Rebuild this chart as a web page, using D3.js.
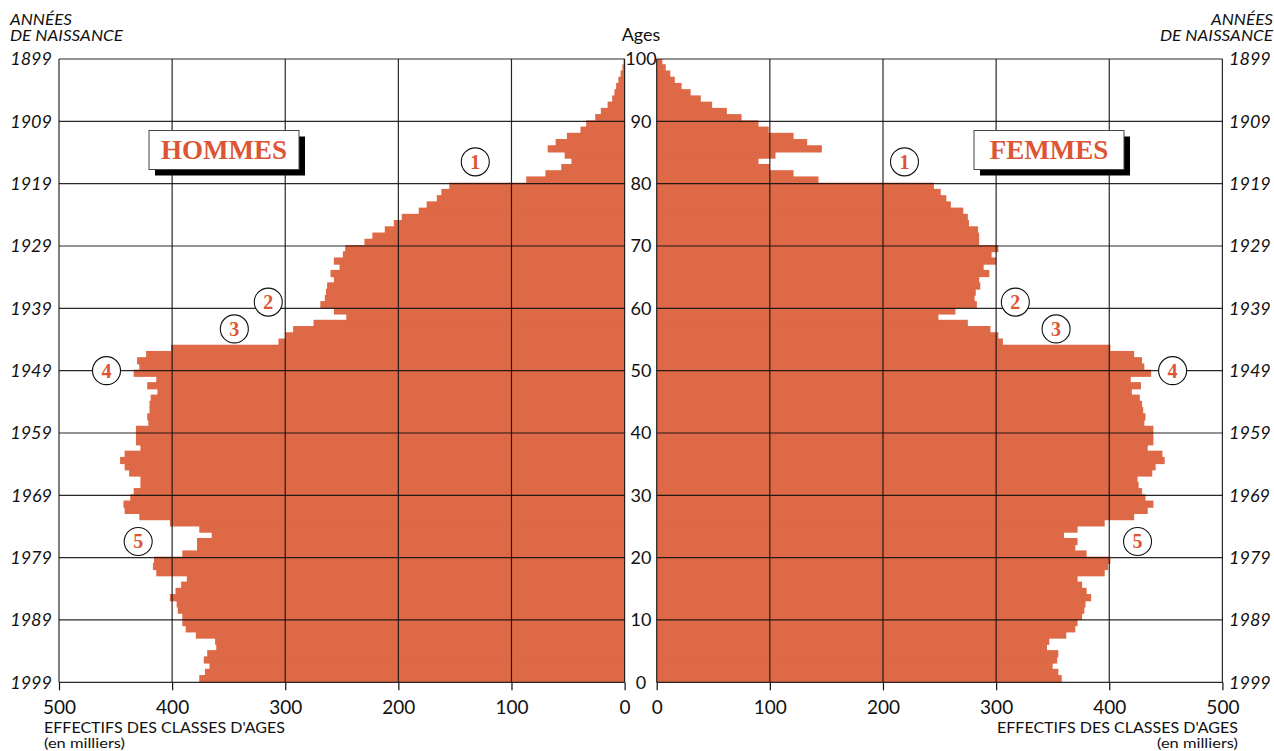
<!DOCTYPE html>
<html><head><meta charset="utf-8">
<script src="https://cdn.jsdelivr.net/npm/d3@7"></script>
<style>body{margin:0;background:#fff}svg{display:block}</style>
</head><body><svg id="c" width="1274" height="751"></svg>
<script>
// ---- data (effectifs en milliers, par âge 0..99, au 1er janvier 2000) ----
const ages = d3.range(0, 100);
const hommes = [376,371,367,372,369,361,362,379,388,391,
  391,395,396,402,397,392,387,414,417,416,
  391,378,378,365,376,402,429,442,443,437,
  434,428,428,438,442,446,442,428,432,432,
  432,421,422,420,420,419,413,422,414,434,
  429,431,423,401,306,300,293,275,246,257,
  269,265,264,263,257,260,252,257,249,247,
  230,223,212,204,197,182,175,166,162,155,
  87,70,56,47,53,68,61,51,39,34,
  26,21,15,11,9,7.5,5.5,3.5,2,1];
const femmes = [358,355,350,354,355,345,347,362,370,372,
  376,378,379,384,380,376,372,396,399,401,
  380,370,372,360,372,396,422,434,439,432,
  429,426,425,438,441,449,447,434,439,439,
  439,431,432,430,429,427,420,428,419,437,
  431,429,422,401,306,302,295,275,249,264,
  283,281,282,286,285,294,289,300,296,302,
  285,285,284,276,275,271,260,256,251,245,
  143,121,100,90,105,146,133,121,99,90,
  75,62,49,39,30,22,16,12,8,5];
const ageTicks = [0,10,20,30,40,50,60,70,80,90,100];
const yearLabels = ["1999","1989","1979","1969","1959","1949","1939","1929","1919","1909","1899"];
const valueTicks = [0,100,200,300,400,500];
const notes = ["1","2","3","4","5"];
const notesAge = [83.5, 61, 56.7, 50, 22.6];
const notesValH = [132, 315, 345, 458, 430];
const notesValF = [219, 317, 353, 456, 425];

// ---- layout ----
const svg = d3.select("#c");
const y = d3.scaleLinear().domain([0,100]).range([682.3, 59]);
const xL = d3.scaleLinear().domain([0,500]).range([624.6, 59]);
const xR = d3.scaleLinear().domain([0,500]).range([656.7, 1222.4]);
const BAR = "#de6946", RED = "#dc5535", INK = "#111";
const SANS = "Lato, 'Open Sans', sans-serif";
const SERIF = "'Liberation Serif', 'DejaVu Serif', serif";

// bars (each bar extends 1px upward under the next one to avoid seams)
svg.append("g").selectAll("rect").data(ages).join("rect")
  .attr("x", a => xL(hommes[a])).attr("width", a => xL(0) - xL(hommes[a]))
  .attr("y", a => y(a+1) - (a < 99 ? 1 : 0)).attr("height", a => y(a) - y(a+1) + (a < 99 ? 1 : 0))
  .attr("fill", BAR);
svg.append("g").selectAll("rect").data(ages).join("rect")
  .attr("x", xR(0)).attr("width", a => xR(femmes[a]) - xR(0))
  .attr("y", a => y(a+1) - (a < 99 ? 1 : 0)).attr("height", a => y(a) - y(a+1) + (a < 99 ? 1 : 0))
  .attr("fill", BAR);

// grids
function grid(x) {
  const g = svg.append("g").attr("stroke", INK).attr("stroke-width", 1.2).attr("stroke-opacity", 0.9);
  g.selectAll("line.v").data(valueTicks).join("line")
    .attr("x1", d => x(d)).attr("x2", d => x(d)).attr("y1", y(100)).attr("y2", y(0));
  g.selectAll("line.h").data(ageTicks).join("line")
    .attr("x1", x(0)).attr("x2", x(500)).attr("y1", d => y(d)).attr("y2", d => y(d));
  const ax = svg.append("g").attr("transform", `translate(0,${y(0)})`)
    .call(d3.axisBottom(x).tickValues(valueTicks).tickSize(8).tickPadding(10).tickFormat(d3.format("d")));
  ax.select(".domain").remove();
  ax.selectAll(".tick line").attr("stroke", INK).attr("stroke-width", 1.2);
  ax.selectAll(".tick text").attr("font-family", SANS).attr("font-size", 19).attr("fill", "#111");
}
grid(xL); grid(xR);

// age labels (centre)
svg.append("g").selectAll("text").data(ageTicks).join("text")
  .attr("x", 641).attr("y", d => y(d)).attr("dy", "0.36em")
  .attr("text-anchor", "middle").attr("font-family", SANS).attr("font-size", 18).attr("fill", "#111")
  .text(d => d);
svg.append("text").attr("x", 641).attr("y", 41).attr("text-anchor", "middle")
  .attr("font-family", SANS).attr("font-size", 18).attr("fill", "#111").text("Ages");

// year labels
svg.append("g").selectAll("text").data(ageTicks).join("text")
  .attr("x", 52).attr("y", d => y(d)).attr("dy", "0.36em").attr("text-anchor", "end")
  .attr("font-family", SANS).attr("font-style", "italic").attr("font-size", 18).attr("fill", "#111")
  .text((d,i) => yearLabels[i]);
svg.append("g").selectAll("text").data(ageTicks).join("text")
  .attr("x", 1229).attr("y", d => y(d)).attr("dy", "0.36em").attr("text-anchor", "start")
  .attr("font-family", SANS).attr("font-style", "italic").attr("font-size", 18).attr("fill", "#111")
  .text((d,i) => yearLabels[i]);

// headers
function hdr(x, anchor) {
  svg.append("text").attr("x", x).attr("y", 24.5).attr("font-family", SANS).attr("font-style", "italic")
    .attr("font-size", 15).attr("fill", "#111").attr("text-anchor", anchor)
    .attr("textLength", 62).attr("lengthAdjust", "spacingAndGlyphs").text("ANNÉES");
  svg.append("text").attr("x", x).attr("y", 41).attr("font-family", SANS).attr("font-style", "italic")
    .attr("font-size", 15).attr("fill", "#111").attr("text-anchor", anchor)
    .attr("textLength", 113).attr("lengthAdjust", "spacingAndGlyphs").text("DE NAISSANCE");
}
hdr(10, "start"); hdr(1273, "end");

// footers
function ftr(x, anchor) {
  svg.append("text").attr("x", x).attr("y", 732.5).attr("font-family", SANS).attr("font-size", 15.5)
    .attr("fill", "#111").attr("text-anchor", anchor)
    .attr("textLength", 241).attr("lengthAdjust", "spacingAndGlyphs")
    .text("EFFECTIFS DES CLASSES D'AGES");
  svg.append("text").attr("x", x).attr("y", 747.5).attr("font-family", SANS).attr("font-size", 14)
    .attr("fill", "#111").attr("text-anchor", anchor)
    .attr("textLength", 81).attr("lengthAdjust", "spacingAndGlyphs")
    .text("(en milliers)");
}
ftr(44, "start"); ftr(1238, "end");

// titled boxes
function box(x0, label) {
  svg.append("rect").attr("x", x0 + 6).attr("y", 136.5).attr("width", 150).attr("height", 39).attr("fill", "#000");
  svg.append("rect").attr("x", x0).attr("y", 130.5).attr("width", 150).attr("height", 39)
    .attr("fill", "#fff").attr("stroke", "#444").attr("stroke-width", 1);
  svg.append("text").attr("x", x0 + 75).attr("y", 159).attr("text-anchor", "middle")
    .attr("font-family", SERIF).attr("font-weight", "bold").attr("font-size", 27)
    .attr("fill", RED).text(label);
}
box(149, "HOMMES"); box(974, "FEMMES");

// circled notes
function circ(x, vals) {
  const g = svg.append("g").selectAll("g").data(notes).join("g")
    .attr("transform", (d,i) => `translate(${x(vals[i])},${y(notesAge[i])})`);
  g.append("circle").attr("r", 14).attr("fill", "#fff").attr("stroke", "#111").attr("stroke-width", 1.1);
  g.append("text").attr("dy", "0.35em").attr("text-anchor", "middle")
    .attr("font-family", SERIF).attr("font-weight", "bold").attr("font-size", 20)
    .attr("fill", RED).text(d => d);
}
circ(xL, notesValH); circ(xR, notesValF);
</script></body></html>
